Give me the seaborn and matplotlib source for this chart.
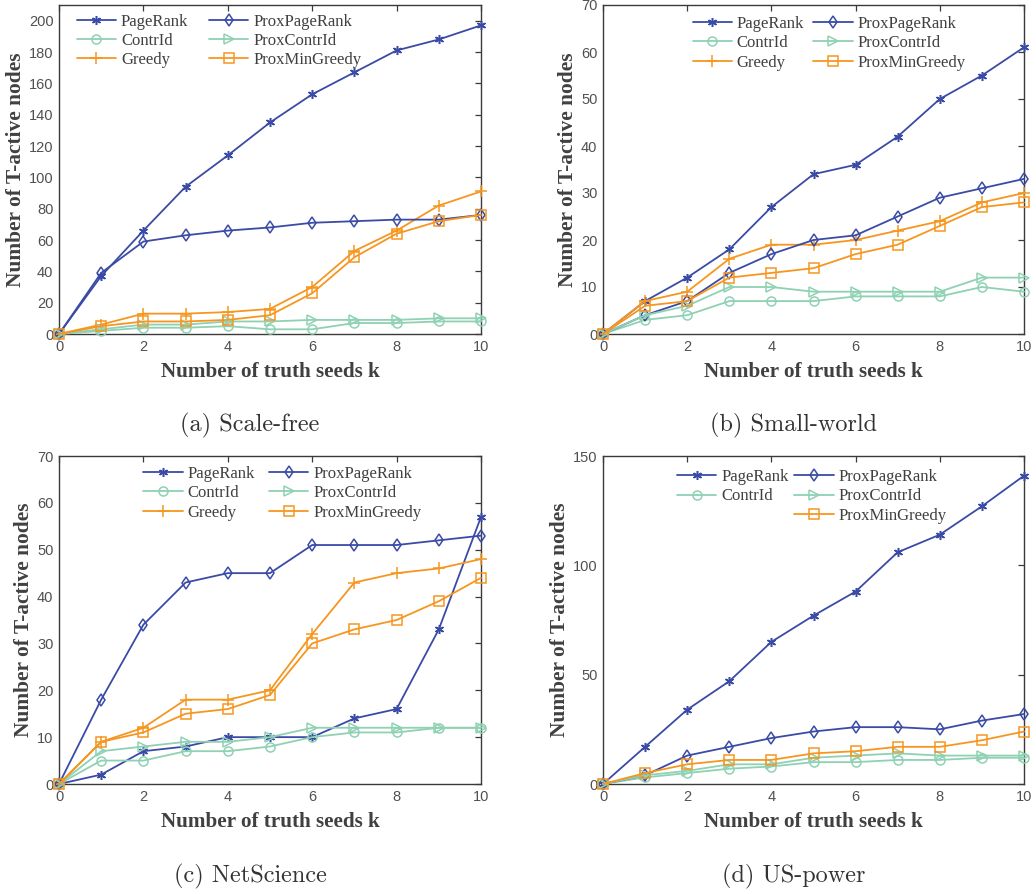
import numpy as np
import pandas as pd
import matplotlib
matplotlib.use("Agg")
import matplotlib.pyplot as plt
import seaborn as sns
from matplotlib.lines import Line2D

k = list(range(11))

# (a) Scale-free
sf_pagerank = [0, 37, 66, 94, 114, 135, 153, 167, 181, 188, 197]
sf_proxpagerank = [0, 39, 59, 63, 66, 68, 71, 72, 73, 73, 76]
sf_contrid = [0, 2, 4, 4, 5, 3, 3, 7, 7, 8, 8]
sf_proxcontrid = [0, 3, 6, 6, 8, 8, 9, 9, 9, 10, 10]
sf_greedy = [0, 6, 13, 13, 14, 16, 30, 53, 66, 82, 91]
sf_proxmingreedy = [0, 5, 8, 8, 9, 12, 26, 49, 64, 72, 76]

# (b) Small-world
sw_pagerank = [0, 7, 12, 18, 27, 34, 36, 42, 50, 55, 61]
sw_proxpagerank = [0, 4, 7, 13, 17, 20, 21, 25, 29, 31, 33]
sw_contrid = [0, 3, 4, 7, 7, 7, 8, 8, 8, 10, 9]
sw_proxcontrid = [0, 4, 6, 10, 10, 9, 9, 9, 9, 12, 12]
sw_greedy = [0, 7, 9, 16, 19, 19, 20, 22, 24, 28, 30]
sw_proxmingreedy = [0, 6, 7, 12, 13, 14, 17, 19, 23, 27, 28]

# (c) NetScience
ns_pagerank = [0, 2, 7, 8, 10, 10, 10, 14, 16, 33, 57]
ns_proxpagerank = [0, 18, 34, 43, 45, 45, 51, 51, 51, 52, 53]
ns_contrid = [0, 5, 5, 7, 7, 8, 10, 11, 11, 12, 12]
ns_proxcontrid = [0, 7, 8, 9, 9, 10, 12, 12, 12, 12, 12]
ns_greedy = [0, 9, 12, 18, 18, 20, 32, 43, 45, 46, 48]
ns_proxmingreedy = [0, 9, 11, 15, 16, 19, 30, 33, 35, 39, 44]

# (d) US-power
us_pagerank = [0, 17, 34, 47, 65, 77, 88, 106, 114, 127, 141]
us_proxpagerank = [0, 4, 13, 17, 21, 24, 26, 26, 25, 29, 32]
us_contrid = [0, 3, 5, 7, 8, 10, 10, 11, 11, 12, 12]
us_proxcontrid = [0, 4, 6, 9, 9, 12, 13, 14, 13, 13, 13]
us_proxmingreedy = [0, 5, 9, 11, 11, 14, 15, 17, 17, 20, 24]

captions = ["(a) Scale-free", "(b) Small-world", "(c) NetScience", "(d) US-power"]
xlabel = "Number of truth seeds k"
ylabel = "Number of T-active nodes"

BLUE = "#3A4BA6"
GREEN = "#8FD1B3"
ORANGE = "#F7961F"
ASTER = (6, 2, 0)

styles = {
    "PageRank": (BLUE, ASTER),
    "ContrId": (GREEN, "o"),
    "Greedy": (ORANGE, "+"),
    "ProxPageRank": (BLUE, "d"),
    "ProxContrId": (GREEN, ">"),
    "ProxMinGreedy": (ORANGE, "s"),
}

panels = [
    dict(data={"PageRank": sf_pagerank, "ContrId": sf_contrid, "Greedy": sf_greedy,
               "ProxPageRank": sf_proxpagerank, "ProxContrId": sf_proxcontrid,
               "ProxMinGreedy": sf_proxmingreedy},
         ylim=210, yticks=np.arange(0, 201, 20), rect=(59, 5, 422, 329),
         leg=(0.042, 0.974, 1.25), cap=(250, 425)),
    dict(data={"PageRank": sw_pagerank, "ContrId": sw_contrid, "Greedy": sw_greedy,
               "ProxPageRank": sw_proxpagerank, "ProxContrId": sw_proxcontrid,
               "ProxMinGreedy": sw_proxmingreedy},
         ylim=70, yticks=np.arange(0, 71, 10), rect=(603, 5, 421, 329),
         leg=(0.213, 0.967, 0.55), cap=(794, 425)),
    dict(data={"PageRank": ns_pagerank, "ContrId": ns_contrid, "Greedy": ns_greedy,
               "ProxPageRank": ns_proxpagerank, "ProxContrId": ns_proxcontrid,
               "ProxMinGreedy": ns_proxmingreedy},
         ylim=70, yticks=np.arange(0, 71, 10), rect=(59, 456, 422, 328),
         leg=(0.200, 0.970, 0.85), cap=(250, 876)),
    dict(data={"PageRank": us_pagerank, "ContrId": us_contrid,
               "ProxPageRank": us_proxpagerank, "ProxContrId": us_proxcontrid,
               "ProxMinGreedy": us_proxmingreedy},
         ylim=150, yticks=[0, 50, 100, 150], rect=(603, 456, 421, 328),
         leg=(0.176, 0.960, 0.35), cap=(794, 876)),
]

sns.set_style("white")
plt.rcParams["font.family"] = ["Liberation Sans", "DejaVu Sans"]

W, H = 1036, 894
fig = plt.figure(figsize=(W / 100, H / 100), dpi=100)

AXCOL = "#3a3a3a"
TXT = "#404040"

for i, p in enumerate(panels):
    x0, y0, w, h = p["rect"]
    ax = fig.add_axes([x0 / W, 1 - (y0 + h) / H, w / W, h / H])
    for name, vals in p["data"].items():
        col, mk = styles[name]
        sns.lineplot(x=k, y=vals, ax=ax, color=col, marker=mk, markersize=6.5 if mk != "+" else 8,
                     markerfacecolor="none", markeredgecolor=col, markeredgewidth=1.1,
                     linewidth=1.3, label=name, legend=False, clip_on=False, zorder=3)
    ax.set_xlim(0, 10)
    ax.set_ylim(0, p["ylim"])
    ax.set_xticks([0, 2, 4, 6, 8, 10])
    ax.set_yticks(p["yticks"])
    for s in ax.spines.values():
        s.set_color(AXCOL)
        s.set_linewidth(1.0)
        s.set_visible(True)
    ax.tick_params(direction="in", top=True, right=True, length=4, width=0.9,
                   color=AXCOL, labelsize=10.5, labelcolor="#505050", pad=4)
    ax.set_xlabel(xlabel, family="Liberation Serif", fontweight="bold", fontsize=15.2,
                  color=TXT, labelpad=6)
    ax.set_ylabel(ylabel, family="Liberation Serif", fontweight="bold", fontsize=15.4,
                  color=TXT, labelpad=2)
    ax.grid(False)

    # legend: two columns
    names = list(p["data"].keys())
    handles = {}
    for name in names:
        col, mk = styles[name]
        handles[name] = Line2D([], [], color=col, marker=mk, markerfacecolor="none",
                               markeredgecolor=col, markersize=6.5 if mk != "+" else 8,
                               markeredgewidth=1.1, linewidth=1.3)
    col1 = ["PageRank", "ContrId", "Greedy"]
    col2 = ["ProxPageRank", "ProxContrId", "ProxMinGreedy"]
    hs, ls = [], []
    for n in col1 + col2:
        if n in handles:
            hs.append(handles[n]); ls.append(n)
        else:
            hs.append(Line2D([], [], linestyle="none", marker=None)); ls.append("")
    lx, ly, cs = p["leg"]
    leg = ax.legend(hs, ls, ncol=2, loc="upper left", bbox_to_anchor=(lx, ly),
                    frameon=False, prop={"family": "Liberation Serif", "size": 12},
                    handlelength=2.35, handletextpad=0.3, columnspacing=cs,
                    labelspacing=0.2, borderpad=0, borderaxespad=0)
    for t in leg.get_texts():
        t.set_color(TXT)

    cx, cy = p["cap"]
    fig.text(cx / W, 1 - cy / H, captions[i], ha="center", va="center",
             family="cmr10", fontsize=17.5, color="#333333")

fig.savefig("out.png", dpi=100)
